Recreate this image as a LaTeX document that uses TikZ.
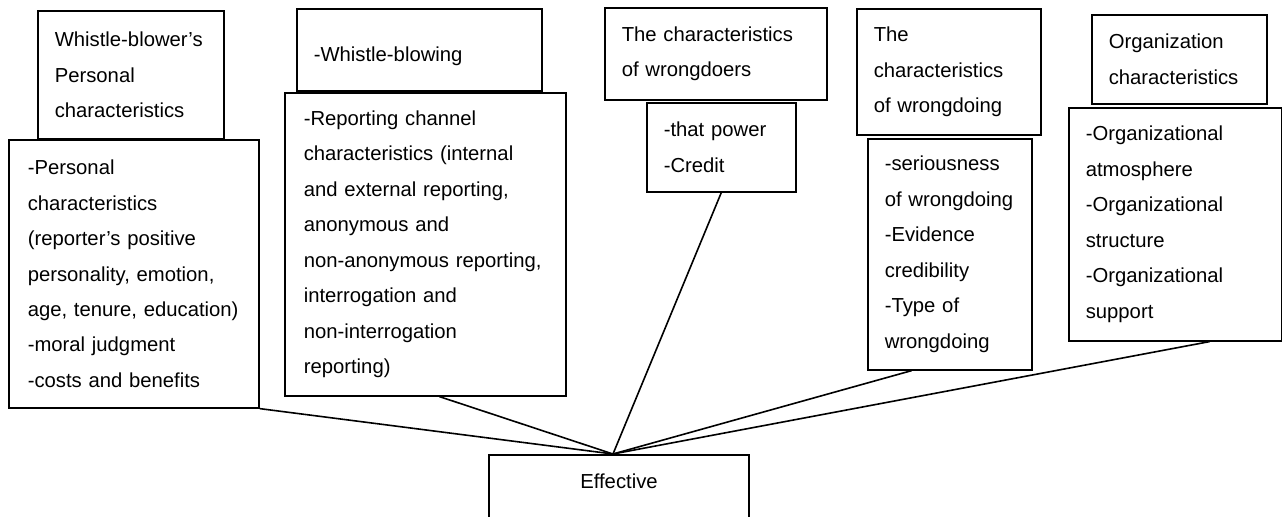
\documentclass[tikz,border=0pt]{standalone}
\usepackage{fontspec}
\setmainfont{Liberation Sans}
\usepackage{tikz}
\usetikzlibrary{calc}

\begin{document}
\begin{tikzpicture}[x = 0.75pt, y = -0.75pt,
	box/.style = {draw, line width = 1.2pt, anchor = north west, align = left,
		inner xsep = 12.75pt, inner ysep = 0pt,
		font = \fontsize{15.2}{26.6}\selectfont},
	link/.style = {line width = 1.2pt}]
	\useasboundingbox (0,0) rectangle (1282,517);
	\clip (0,0) rectangle (1282,517);
	% top boxes
	\node [box, text width = 114pt, minimum height = 96pt] (pers) at (37,10)
		{Whistle-blower's\\Personal\\characteristics};
	\node [box, text width = 158.25pt, minimum height = 61.5pt, text height = 20pt] (blow) at (296,8)
		{-Whistle-blowing};
	\node [box, text width = 141pt, minimum height = 69pt] (doer) at (604,7)
		{The characteristics\\of wrongdoers};
	\node [box, text width = 112.5pt, minimum height = 94.5pt] (doing) at (856,8)
		{The\\characteristics\\of wrongdoing};
	\node [box, text width = 105.75pt, minimum height = 66.75pt] (org) at (1091,14)
		{Organization\\characteristics};
	% item boxes
	\node [box, text width = 159pt, minimum height = 201pt, inner xsep = 14.25pt] (persitems) at (8,139)
		{-Personal\\characteristics\\(reporter's positive\\personality, emotion,\\age, tenure, education)\\-moral judgment\\-costs and benefits};
	\node [box, text width = 182.25pt, minimum height = 227.25pt, inner xsep = 14.25pt] (blowitems) at (284,92)
		{-Reporting channel\\characteristics (internal\\and external reporting,\\anonymous and\\non-anonymous reporting,\\interrogation and\\non-interrogation\\reporting)};
	\node [box, text width = 86.25pt, minimum height = 66.75pt] (doeritems) at (646,102)
		{-that power\\-Credit};
	\node [box, text width = 97.5pt, minimum height = 173.25pt] (doingitems) at (867,138)
		{-seriousness\\of wrongdoing\\-Evidence\\credibility\\-Type of\\wrongdoing};
	\node [box, text width = 134.25pt, minimum height = 174.75pt] (orgitems) at (1068,107)
		{-Organizational\\atmosphere\\-Organizational\\structure\\-Organizational\\support};
	% result
	\node [draw, line width = 1.2pt, anchor = north, align = center, minimum width = 195pt,
		inner ysep = 14pt, font = \fontsize{15.2}{26.6}\selectfont] (eff) at (619,454)
		{Effective\\[7pt]Whistle-blowing};
	\coordinate (hub) at ($(eff.north west)!0.477!(eff.north east)$);
	\draw [link] (persitems.south east) -- (hub);
	\draw [link] ($(blowitems.south west)!0.55!(blowitems.south east)$) -- (hub);
	\draw [link] (doeritems.south) -- (hub);
	\draw [link] ($(doingitems.south west)!0.27!(doingitems.south east)$) -- (hub);
	\draw [link] ($(orgitems.south west)!0.66!(orgitems.south east)$) -- (hub);
\end{tikzpicture}
\end{document}
